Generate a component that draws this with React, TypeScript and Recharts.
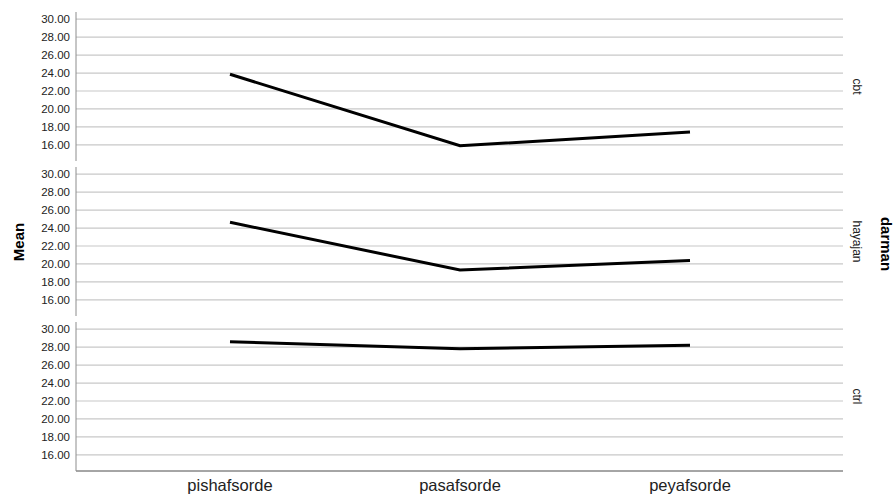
import React from 'react'
import { LineChart, Line, XAxis, YAxis, ReferenceLine } from 'recharts'

const categories = ['pishafsorde', 'pasafsorde', 'peyafsorde']
const cbtMeans = [23.86, 15.9, 17.42]
const hayajanMeans = [24.64, 19.32, 20.38]
const ctrlMeans = [28.6, 27.82, 28.21]
const yTicks = [16, 18, 20, 22, 24, 26, 28, 30]

const panels = [
  { name: 'cbt', values: cbtMeans, top: 12 },
  { name: 'hayajan', values: hayajanMeans, top: 167 },
  { name: 'ctrl', values: ctrlMeans, top: 322 },
]

const font = '"Liberation Sans", Arial, sans-serif'
const plotHeight = 149

function Panel({ values, top, last }: { values: number[]; top: number; last: boolean }) {
  const data = categories.map((c, i) => ({ name: c, mean: values[i] }))
  const axisH = last ? 24 : 0
  const height = plotHeight + axisH + (last ? 0 : 2)
  return (
    <div style={{ position: 'absolute', left: 0, top }}>
      <LineChart
        width={895}
        height={height}
        data={data}
        margin={{ top: 0, right: 52, bottom: last ? 0 : 2, left: 6 }}
      >
        <XAxis
          dataKey="name"
          height={axisH}
          padding={{ left: 154, right: 153 }}
          stroke="#4d4d4d"
          tickLine={false}
          tickMargin={2}
          tick={last ? { fill: '#222', fontSize: 16.5 } : false}
        />
        <YAxis
          width={70}
          domain={[14.2, 30.8]}
          ticks={yTicks}
          stroke="#8c8c8c"
          tickLine={false}
          tickSize={6}
          tickMargin={0}
          tick={{ fill: '#222', fontSize: 11.5 }}
          tickFormatter={(v: number) => v.toFixed(2)}
        />
        {yTicks.map((t) => (
          <ReferenceLine key={t} y={t} stroke="#c8c8c8" strokeWidth={1.2} />
        ))}
        <Line
          type="linear"
          dataKey="mean"
          stroke="#000"
          strokeWidth={3}
          dot={false}
          isAnimationActive={false}
        />
      </LineChart>
    </div>
  )
}

export default function App() {
  return (
    <div
      style={{
        position: 'absolute',
        left: 0,
        top: 0,
        width: 895,
        height: 495,
        overflow: 'hidden',
        background: '#fff',
        fontFamily: font,
      }}
    >
      {panels.map((p, i) => (
        <Panel key={p.name} values={p.values} top={p.top} last={i === panels.length - 1} />
      ))}
      <svg
        width={895}
        height={495}
        style={{ position: 'absolute', left: 0, top: 0, pointerEvents: 'none' }}
      >
        <text
          transform="translate(24,242) rotate(-90)"
          textAnchor="middle"
          fontFamily={font}
          fontWeight="bold"
          fontSize={15}
          fill="#000"
        >
          Mean
        </text>
        <text
          transform="translate(881,244) rotate(90)"
          textAnchor="middle"
          fontFamily={font}
          fontWeight="bold"
          fontSize={15}
          fill="#000"
        >
          darman
        </text>
        {panels.map((p) => (
          <text
            key={p.name}
            transform={`translate(853,${p.top + plotHeight / 2}) rotate(90)`}
            textAnchor="middle"
            fontFamily={font}
            fontSize={12}
            fill="#222"
          >
            {p.name}
          </text>
        ))}
      </svg>
    </div>
  )
}
